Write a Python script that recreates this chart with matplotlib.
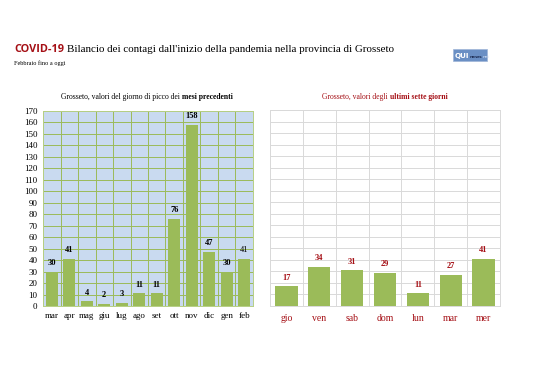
import numpy as np
import matplotlib.pyplot as plt
from matplotlib.patches import Rectangle

months = ["mar", "apr", "mag", "giu", "lug", "ago", "set", "ott", "nov", "dic", "gen", "feb"]
month_vals = [30, 41, 4, 2, 3, 11, 11, 76, 158, 47, 30, 41]
days = ["gio", "ven", "sab", "dom", "lun", "mar", "mer"]
day_vals = [17, 34, 31, 29, 11, 27, 41]
yticks = list(range(0, 171, 10))

W, H = 538, 380
green = "#9bbb59"
darkred = "#a50f15"
serif = "Liberation Serif"

fig = plt.figure(figsize=(W / 100, H / 100), dpi=100)
fig.patch.set_facecolor("white")


def box(x0, x1, y_top, y_bot):
    return [x0 / W, 1 - y_bot / H, (x1 - x0) / W, (y_bot - y_top) / H]


ax1 = fig.add_axes(box(43, 253, 111, 306))
ax2 = fig.add_axes(box(270, 500, 110, 306))

# left chart: previous months
x1 = np.arange(len(months))
ax1.set_facecolor("#c9daf0")
ax1.bar(x1, month_vals, width=0.68, color=green, zorder=3)
for i, v in enumerate(month_vals):
    ax1.text(i, v + 4, str(v), ha="center", va="bottom", fontsize=6,
             family=serif, weight="normal" if i == len(months) - 1 else "bold",
             color="black", zorder=4)
ax1.set_xlim(-0.5, len(months) - 0.5)
ax1.set_ylim(0, 170)
ax1.set_yticks(yticks)
ax1.set_yticklabels([str(t) for t in yticks], fontsize=6.5, family=serif)
ax1.set_xticks(x1)
ax1.set_xticklabels(months, fontsize=6.5, family=serif)
ax1.set_xticks(np.arange(-0.5, len(months), 1), minor=True)
ax1.grid(axis="y", color="#9bbb59", linewidth=0.7, zorder=1)
ax1.grid(axis="x", which="minor", color="#9bbb59", linewidth=0.7, zorder=1)
ax1.tick_params(length=0, pad=4, which="both")
for s in ax1.spines.values():
    s.set_color("#b6cf85")
    s.set_linewidth(0.7)

# right chart: last seven days
x2 = np.arange(len(days))
ax2.bar(x2, day_vals, width=0.68, color=green, zorder=3)
for i, v in enumerate(day_vals):
    ax2.text(i, v + 4, str(v), ha="center", va="bottom", fontsize=6,
             family=serif, weight="bold", color=darkred, zorder=4)
ax2.set_xlim(-0.5, len(days) - 0.5)
ax2.set_ylim(0, 170)
ax2.set_yticks(yticks)
ax2.set_yticklabels([])
ax2.set_xticks(x2)
ax2.set_xticklabels(days, fontsize=7, family=serif, color=darkred)
ax2.set_xticks(np.arange(-0.5, len(days), 1), minor=True)
ax2.grid(axis="y", color="#d9d9d9", linewidth=0.7, zorder=1)
ax2.grid(axis="x", which="minor", color="#d9d9d9", linewidth=0.7, zorder=1)
ax2.tick_params(length=0, pad=6, which="both")
for s in ax2.spines.values():
    s.set_color("#d9d9d9")
    s.set_linewidth(0.7)

renderer = fig.canvas.get_renderer()

# main title
t0 = fig.text(14 / W, 1 - 52 / H, "COVID-19", fontsize=7.8, weight="bold",
              family="Open Sans", color=darkred, va="baseline", ha="left")
bb = t0.get_window_extent(renderer)
t1 = fig.text((bb.x1 + 3) / W, 1 - 52 / H,
              "Bilancio dei contagi dall'inizio della pandemia nella provincia di Grosseto",
              fontsize=7.9, family=serif, va="baseline", ha="left")
fig.text(14 / W, 1 - 65 / H, "Febbraio fino a oggi", fontsize=4.5, family=serif,
         va="baseline", ha="left")

# panel titles (regular + bold parts)
def split_title(xc, y, a, b, color):
    ta = fig.text(0, 1 - y / H, a, fontsize=5.5, family=serif, color=color, va="baseline")
    tb = fig.text(0, 1 - y / H, b, fontsize=5.5, family=serif, weight="bold",
                  color=color, va="baseline")
    wa = ta.get_window_extent(renderer).width
    wb = tb.get_window_extent(renderer).width
    start = xc - (wa + wb) / 2
    ta.set_x(start / W)
    tb.set_x((start + wa) / W)


split_title(147, 99, "Grosseto, valori del giorno di picco dei ", "mesi precedenti", "black")
split_title(385, 99, "Grosseto, valori degli ", "ultimi sette giorni", darkred)

# logo
fig.patches.append(Rectangle((453 / W, 1 - 61 / H), 34 / W, 12 / H,
                             transform=fig.transFigure, facecolor="#6a8fc4",
                             edgecolor="#9fb6d8", linewidth=0.5))
xl = 454.5
for txt, fs, wt, col in [("QUI", 5.2, "bold", "white"),
                         ("news", 3.2, "bold", "#1f2f55"),
                         ("net", 3.2, "normal", "#dbe5f5")]:
    t = fig.text(xl / W, 1 - 58 / H, txt, fontsize=fs, weight=wt, color=col,
                 family="DejaVu Sans", va="baseline")
    xl += t.get_window_extent(renderer).width + 0.3

fig.savefig("out.png", dpi=100)
